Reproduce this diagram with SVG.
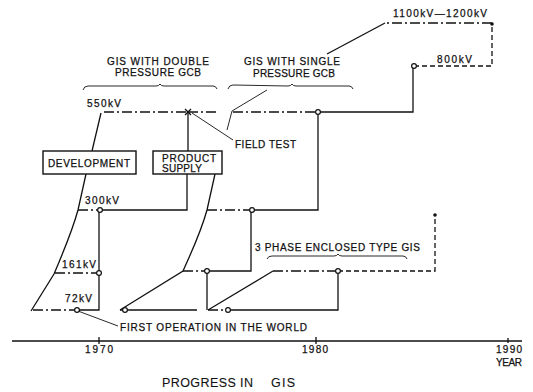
<svg xmlns="http://www.w3.org/2000/svg" width="533" height="392" viewBox="0 0 533 392">
<style>
text{font-family:"Liberation Sans",Arial,sans-serif;font-size:10px;fill:#111;stroke:#111;stroke-width:0.25}
.t{font-size:12.5px;stroke-width:0.1}
.s{fill:none;stroke:#111;stroke-width:1.3}
.dd{fill:none;stroke:#111;stroke-width:1.3;stroke-dasharray:10 3 2 3}
.da{fill:none;stroke:#111;stroke-width:1.3;stroke-dasharray:5 3}
.th{fill:none;stroke:#111;stroke-width:0.9}
.c{fill:#fff;stroke:#111;stroke-width:1.2}
.dot{fill:#111}
.box{fill:#fff;stroke:#111;stroke-width:1.4}
</style>
<rect width="533" height="392" fill="#fff"/>
<g id="connectors">
<path class="s" d="M31,311 L54,274 C63,253 72,232 78,210 L86,174"/>
<path class="s" d="M92,151 L101,113"/>
<path class="dd" d="M33,310 H77"/>
<path class="s" d="M77,310 H99 V210"/>
<path class="dd" d="M55,273 H99"/>
<path class="dd" d="M78,210 H100"/>
<path class="s" d="M100,210 H187 V174"/>
<path class="dd" d="M104,112 H188"/>
<path class="s" d="M188,112 V151"/>
<path class="dd" d="M188,112 H216"/>
<path class="dd" d="M233,112 H318"/>
<path class="s" d="M318,112 H413 V66"/>
<path class="da" d="M414,66 H492 V24"/>
<path class="dd" d="M492,23 H385"/>
<path class="s" d="M385,23 L327,54"/>
<path class="s" d="M215,174 L207,210 C200,235 190,255 183,271 L120,310"/>
<path class="s" d="M120,310 H197"/>
<path class="dd" d="M183,271 H207"/>
<path class="s" d="M207,271 H251 V210"/>
<path class="dd" d="M207,210 H252"/>
<path class="s" d="M252,210 H318 V112"/>
<path class="s" d="M207,271 V310"/>
<path class="s" d="M208,310 L273,271"/>
<path class="dd" d="M208,310 H228"/>
<path class="s" d="M228,310 H338 V271"/>
<path class="dd" d="M273,271 H338"/>
<path class="da" d="M338,271 H435 V215"/>
<path class="th" d="M78,311 L118,326"/>
<path class="th" d="M192,113 L233,140"/>
<path class="th" d="M267,90 L232,111 L227,130"/>
<path class="th" d="M83,90 Q84,86 88,86 L156,86 Q159,86 160,84 Q161,86 164,86 L213,86 Q216,86 217,89"/>
<path class="th" d="M228,89 Q229,85 233,85 L288,86 Q291,86 292,84 Q293,86 296,86 L349,86 Q352,86 353,89"/>
<path class="th" d="M267,259 Q268,256 272,256 L334,256 Q337,256 338,254 Q339,256 342,256 L403,256 Q406,256 407,259"/>
<path d="M12,341 H522" fill="none" stroke="#111" stroke-width="1.6"/>
<path class="s" d="M99,337 V344 M316,337 V344 M508,338 V343"/>
</g>
<g id="markers">
<circle class="c" cx="77" cy="310" r="2.4"/>
<circle class="c" cx="99" cy="273" r="2.4"/>
<circle class="c" cx="100" cy="210" r="2.4"/>
<circle class="c" cx="125" cy="310" r="2.4"/>
<circle class="c" cx="207" cy="271" r="2.4"/>
<circle class="c" cx="252" cy="210" r="2.4"/>
<circle class="c" cx="228" cy="310" r="2.4"/>
<circle class="c" cx="338" cy="271" r="2.4"/>
<circle class="c" cx="318" cy="112" r="2.4"/>
<circle class="c" cx="414" cy="66" r="2.4"/>
<circle class="dot" cx="492" cy="24" r="1.8"/>
<circle class="dot" cx="435" cy="215" r="1.8"/>
<path class="s" d="M185,109 L191,115 M191,109 L185,115"/>
</g>
<g id="node-development">
<rect class="box" x="43" y="151" width="93" height="23"/>
<text x="48" y="167" textLength="82" lengthAdjust="spacing">DEVELOPMENT</text>
</g>
<g id="node-product-supply">
<rect class="box" x="153" y="151" width="69" height="23"/>
<text x="162" y="162" textLength="54" lengthAdjust="spacing">PRODUCT</text>
<text x="162" y="171.5" textLength="40" lengthAdjust="spacing">SUPPLY</text>
</g>
<g id="labels">
<text x="107" y="64.5" textLength="102" lengthAdjust="spacing">GIS WITH DOUBLE</text>
<text x="115" y="76" textLength="86" lengthAdjust="spacing">PRESSURE GCB</text>
<text x="244" y="65" textLength="96" lengthAdjust="spacing">GIS WITH SINGLE</text>
<text x="253" y="76.5" textLength="82" lengthAdjust="spacing">PRESSURE GCB</text>
<text x="87" y="106.5" textLength="34" lengthAdjust="spacing">550kV</text>
<text x="235" y="147.5" textLength="61" lengthAdjust="spacing">FIELD TEST</text>
<text x="85" y="204" textLength="34" lengthAdjust="spacing">300kV</text>
<text x="62" y="268" textLength="34" lengthAdjust="spacing">161kV</text>
<text x="65" y="302" textLength="27" lengthAdjust="spacing">72kV</text>
<text x="120" y="331" textLength="187" lengthAdjust="spacing">FIRST OPERATION IN THE WORLD</text>
<text x="255" y="251" textLength="165" lengthAdjust="spacing">3 PHASE ENCLOSED TYPE GIS</text>
<text x="393" y="17" textLength="94" lengthAdjust="spacing">1100kV—1200kV</text>
<text x="437" y="63" textLength="35" lengthAdjust="spacing">800kV</text>
<text x="85" y="353" textLength="28" lengthAdjust="spacing">1970</text>
<text x="302" y="353" textLength="26" lengthAdjust="spacing">1980</text>
<text x="496" y="353" textLength="26" lengthAdjust="spacing">1990</text>
<text x="496" y="366" textLength="26" lengthAdjust="spacing">YEAR</text>
<text class="t" x="162" y="387" textLength="91" lengthAdjust="spacing">PROGRESS IN</text>
<text class="t" x="271" y="387" textLength="24" lengthAdjust="spacing">GIS</text>
</g>
</svg>
